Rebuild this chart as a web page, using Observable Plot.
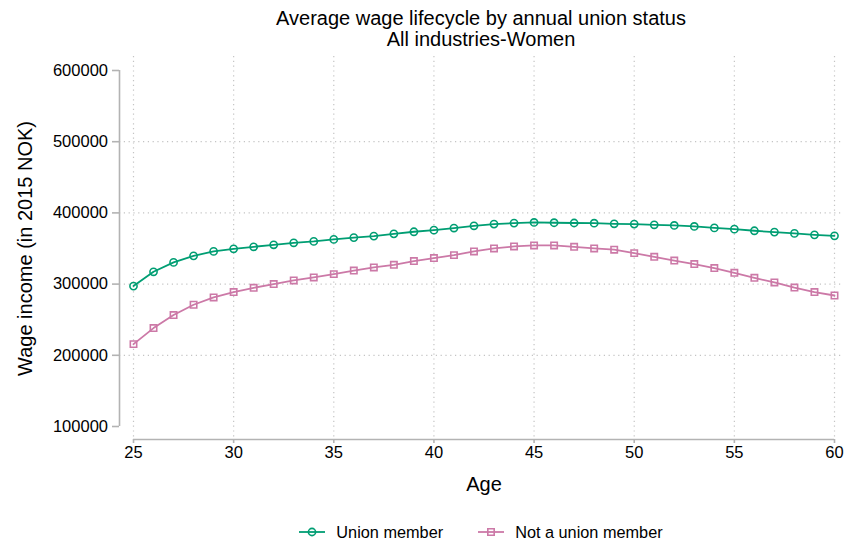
<!DOCTYPE html>
<html>
<head>
<meta charset="utf-8">
<script src="https://cdn.jsdelivr.net/npm/d3@7"></script>
<script src="https://cdn.jsdelivr.net/npm/@observablehq/plot@0.6"></script>
<style>
  html, body { margin: 0; padding: 0; background: #fff; }
  body { font-family: "Liberation Sans", Arial, sans-serif; color: #000; }
  #wrap { position: relative; width: 846px; height: 541px; overflow: hidden; background: #fff; }
  #title { position: absolute; left: 119px; width: 724px; top: 8px; text-align: center; font-size: 20px; line-height: 21px; }
  #chart { position: absolute; left: 0; top: 50px; }
  #legend { position: absolute; left: 119px; width: 724px; top: 521px; height: 22px; display: flex; justify-content: center; align-items: center; font-size: 16.3px; }
  .item { display: flex; align-items: center; }
  .item svg { margin-right: 11px; }
  .item + .item { margin-left: 35px; }
</style>
</head>
<body>
<div id="wrap">
  <div id="title"><div>Average wage lifecycle by annual union status</div><div>All industries-Women</div></div>
  <div id="chart"></div>
  <div id="legend"></div>
</div>
<script>
// ---- data ----
const ages = [25, 26, 27, 28, 29, 30, 31, 32, 33, 34, 35, 36, 37, 38, 39, 40, 41, 42,
              43, 44, 45, 46, 47, 48, 49, 50, 51, 52, 53, 54, 55, 56, 57, 58, 59, 60];
const unionMember = [297200, 317300, 330500, 339700, 345900, 349600, 352400, 355200, 358000,
                     360000, 362800, 365300, 367400, 370600, 373500, 375800, 378700, 381900,
                     384300, 385700, 386600, 386200, 385800, 385500, 384700, 384300, 383300,
                     382400, 381000, 378900, 377200, 374900, 373000, 371200, 369200, 367800];
const notUnionMember = [215700, 238200, 256500, 271000, 281300, 288800, 294800, 300000, 305200,
                        309400, 314000, 319000, 323400, 327100, 332300, 336500, 340700, 345900,
                        350100, 352900, 354300, 354300, 352300, 350100, 348300, 343500, 338300,
                        333100, 328100, 322500, 315900, 308800, 302300, 295200, 288800, 284000];
const seriesNames = ["Union member", "Not a union member"];
const seriesColors = ["#009E73", "#CC79A7"];
const seriesSymbols = ["circle", "square"];
const xTicks = [25, 30, 35, 40, 45, 50, 55, 60];
const yTicks = [100000, 200000, 300000, 400000, 500000, 600000];
const yGrid = [200000, 300000, 400000, 500000];
const xLabel = "Age";
const yLabel = "Wage income (in 2015 NOK)";

const rows = [];
ages.forEach((a, i) => {
  rows.push({age: a, wage: unionMember[i], status: seriesNames[0]});
  rows.push({age: a, wage: notUnionMember[i], status: seriesNames[1]});
});

const axisColor = "#b3b3b3";
const gridColor = "#c4c4c4";

const chart = Plot.plot({
  width: 846,
  height: 455,
  marginTop: 20,
  marginBottom: 79,
  marginLeft: 133,
  marginRight: 12,
  style: {fontFamily: "'Liberation Sans', Arial, sans-serif", fontSize: "16.5px", color: "#000", background: "transparent"},
  x: {domain: [xTicks[0], xTicks[xTicks.length - 1]]},
  y: {domain: [yTicks[0], yTicks[yTicks.length - 1]]},
  color: {domain: seriesNames, range: seriesColors},
  symbol: {domain: seriesNames, range: seriesSymbols},
  marks: [
    // dotted grid
    Plot.ruleY(yGrid, {stroke: gridColor, strokeWidth: 1.2, strokeDasharray: "1.2,3.6", insetLeft: -14, insetRight: -9}),
    Plot.ruleX(xTicks, {stroke: gridColor, strokeWidth: 1.2, strokeDasharray: "1.2,3.6", insetTop: -14, insetBottom: -13}),
    // detached axis lines
    Plot.ruleX([xTicks[0]], {y1: yTicks[0], y2: yTicks[yTicks.length - 1], dx: -14, stroke: axisColor, strokeWidth: 1.6}),
    Plot.ruleY([yTicks[0]], {x1: xTicks[0], x2: xTicks[xTicks.length - 1], dy: 13, stroke: axisColor, strokeWidth: 1.6}),
    Plot.axisY({ticks: yTicks, tickSize: 7, tickPadding: 4.5, dx: -14, tickFormat: d => String(d), label: null, stroke: axisColor, strokeWidth: 1.6, fill: "#000"}),
    Plot.axisX({ticks: xTicks, tickSize: 4, tickPadding: 3, dy: 13, tickFormat: d => String(d), label: null, stroke: axisColor, strokeWidth: 1.6, fill: "#000"}),
    // series
    Plot.line(rows, {x: "age", y: "wage", z: "status", stroke: "status", strokeWidth: 1.8}),
    Plot.dot(rows, {x: "age", y: "wage", stroke: "status", symbol: "status", r: 3.6, fill: "none", strokeWidth: 1.6}),
    // axis titles
    Plot.text([yLabel], {frameAnchor: "left", textAnchor: "middle", lineAnchor: "middle", rotate: -90, dx: -108, fontSize: 20, fill: "#000"}),
    Plot.text([xLabel], {frameAnchor: "bottom", textAnchor: "middle", lineAnchor: "middle", dy: 58, fontSize: 20, fill: "#000"})
  ]
});
document.getElementById("chart").appendChild(chart);

// legend
const legend = document.getElementById("legend");
seriesNames.forEach((name, i) => {
  const item = document.createElement("div");
  item.className = "item";
  const ns = "http://www.w3.org/2000/svg";
  const svg = document.createElementNS(ns, "svg");
  svg.setAttribute("width", 26); svg.setAttribute("height", 14);
  const ln = document.createElementNS(ns, "line");
  ln.setAttribute("x1", 0); ln.setAttribute("x2", 26); ln.setAttribute("y1", 7); ln.setAttribute("y2", 7);
  ln.setAttribute("stroke", seriesColors[i]); ln.setAttribute("stroke-width", 1.8);
  svg.appendChild(ln);
  const sym = document.createElementNS(ns, "path");
  sym.setAttribute("d", d3.symbol(seriesSymbols[i] === "circle" ? d3.symbolCircle : d3.symbolSquare, Math.PI * 3.6 * 3.6)());
  sym.setAttribute("transform", "translate(13,7)");
  sym.setAttribute("fill", "none"); sym.setAttribute("stroke", seriesColors[i]); sym.setAttribute("stroke-width", 1.6);
  svg.appendChild(sym);
  const span = document.createElement("span");
  span.textContent = name;
  item.appendChild(svg); item.appendChild(span);
  legend.appendChild(item);
});
</script>
</body>
</html>
